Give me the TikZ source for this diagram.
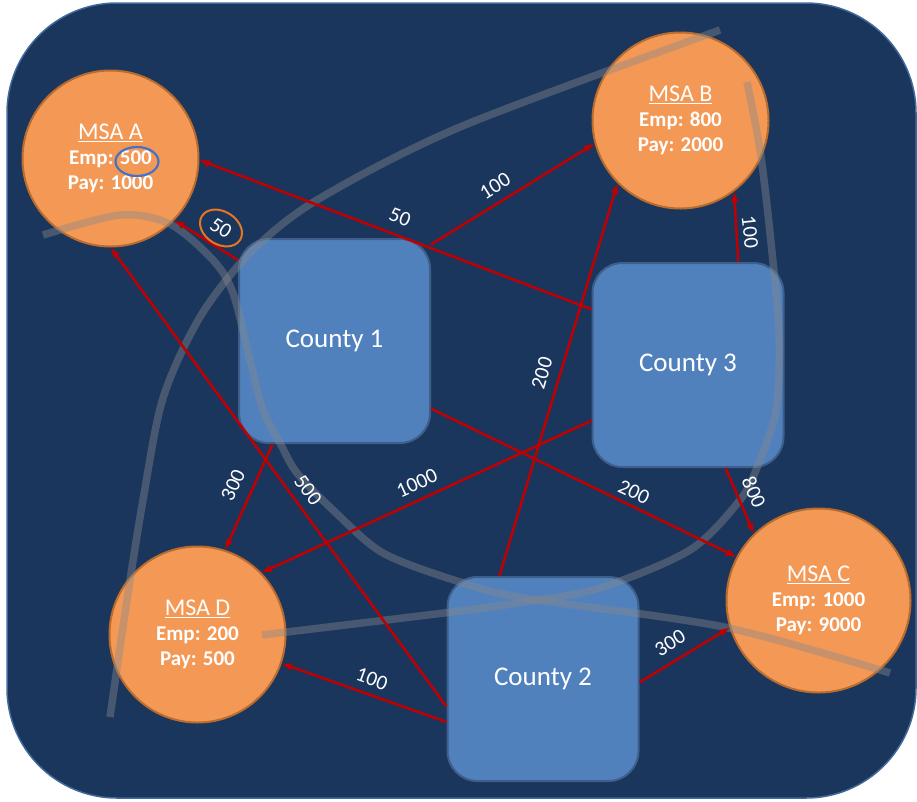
\documentclass[tikz,border=0pt]{standalone}
\usepackage{fontspec}
\setmainfont{Carlito}
\usepackage{tikz}
\usetikzlibrary{positioning,shapes.geometric,arrows}
\definecolor{navy}{RGB}{27,54,93}
\definecolor{navyline}{RGB}{65,105,155}
\definecolor{msafill}{RGB}{244,153,85}
\definecolor{msaline}{RGB}{186,108,46}
\definecolor{ctyfill}{RGB}{80,129,189}
\definecolor{ctyline}{RGB}{62,95,140}
\definecolor{flow}{RGB}{192,0,0}
\definecolor{ring}{RGB}{230,118,35}
\definecolor{hilite}{RGB}{68,114,196}
\definecolor{river}{RGB}{135,136,139}
\newcommand{\msatitle}[1]{{\fontsize{24}{25}\selectfont\mdseries\underline{#1}}}

\begin{document}
\begin{tikzpicture}[x=1pt, y=-1pt,
  msa/.style={circle, fill=msafill, draw=msaline, line width=2pt, minimum size=176pt, inner sep=0pt, text=white, align=center, font=\fontsize{21}{25}\selectfont\bfseries},
  cty/.style={rectangle, rounded corners=30pt, fill=ctyfill, draw=ctyline, line width=2pt, minimum width=191pt, minimum height=204pt, text=white, font=\fontsize{27}{30}\selectfont},
  wt/.style={text=white, inner sep=1pt, font=\fontsize{21}{21}\selectfont},
  link/.style={-latex, draw=flow, line width=2.5pt},
  trace/.style={draw=river, line width=7.5pt, opacity=0.42}]

      \useasboundingbox (0,0) rectangle (917,801);
      \fill [navy, draw=navyline, line width=1.5pt, rounded corners=110pt] (7,3) rectangle (916,798);

      \node [msa] at (110.5,158.5) (msaA) {\msatitle{MSA A}\\ Emp: 500\\ Pay: 1000};
      \node [msa] at (680.5,120.5) (msaB) {\msatitle{MSA B}\\ Emp: 800\\ Pay: 2000};
      \node [msa, minimum size=184pt] at (818.5,600.5) (msaC) {\msatitle{MSA C}\\ Emp: 1000\\ Pay: 9000};
      \node [msa] at (197.5,634.5) (msaD) {\msatitle{MSA D}\\ Emp: 200\\ Pay: 500};
      \node [ellipse, draw=hilite, line width=2.2pt, minimum width=43pt, minimum height=29pt] at (137,161.5) (mark500) {};

      \node [cty] at (334.5,341) (cty1) {County 1};
      \node [cty] at (543,679) (cty2) {County 2};
      \node [cty] at (688,365) (cty3) {County 3};

      \draw [trace] plot [smooth] coordinates {(43,235) (120,215) (170,224) (213,260) (233,293) (250,360) (263,410) (280,443) (297,473) (333,510) (383,553) (460,582) (524,598) (724,627) (890,673)};
      \draw [trace] plot [smooth] coordinates {(747,82) (760,150) (770,233) (779,333) (776,410) (758,465) (740,500) (690,550) (600,588) (524,602) (460,611) (262,635)};
      \draw [trace] plot [smooth] coordinates {(110,717) (127,600) (143,500) (163,398) (200,317) (250,253) (317,200) (460,127) (720,30)};

      \draw [link] (cty1.140) -- (msaA.-44);
      \draw [link] (cty3.150) -- (msaA.-1);
      \draw [link] (cty1.45) -- (msaB.195);
      \draw [link] (cty2.113.5) -- (msaB.225);
      \draw [link] (cty3.64) -- (msaB.-53);
      \draw [link] (cty1.239.3) -- (msaD.72);
      \draw [link] (cty2.196.8) -- (msaA.-90);
      \draw [link] (cty3.210.6) -- (msaD.44);
      \draw [link] (cty2.204.6) -- (msaD.-19);
      \draw [link] (cty1.-35.8) -- (msaC.152);
      \draw [link] (cty3.-70) -- (msaC.134);
      \draw [link] (cty2.-2.3) -- (msaC.197);

      \node [wt, rotate=-32, ellipse, draw=ring, line width=2pt, minimum width=45pt, minimum height=33pt] at (221,228) (wA1) {50};
      \node [wt, rotate=-21] at (400,217) (wA3) {50};
      \node [wt, rotate=32] at (495,186) (wB1) {100};
      \node [wt, rotate=73.4] at (542,373) (wB2) {200};
      \node [wt, rotate=-84] at (750,232) (wB3) {100};
      \node [wt, rotate=65] at (233,485) (wD1) {300};
      \node [wt, rotate=-53.5] at (308,490) (wA2) {500};
      \node [wt, rotate=24.6] at (417,483) (wD3) {1000};
      \node [wt, rotate=-20] at (372,679) (wD2) {100};
      \node [wt, rotate=-25.6] at (634,492) (wC1) {200};
      \node [wt, rotate=-66] at (754,492) (wC3) {800};
      \node [wt, rotate=32] at (670,643) (wC2) {300};
    \end{tikzpicture}
\end{document}
